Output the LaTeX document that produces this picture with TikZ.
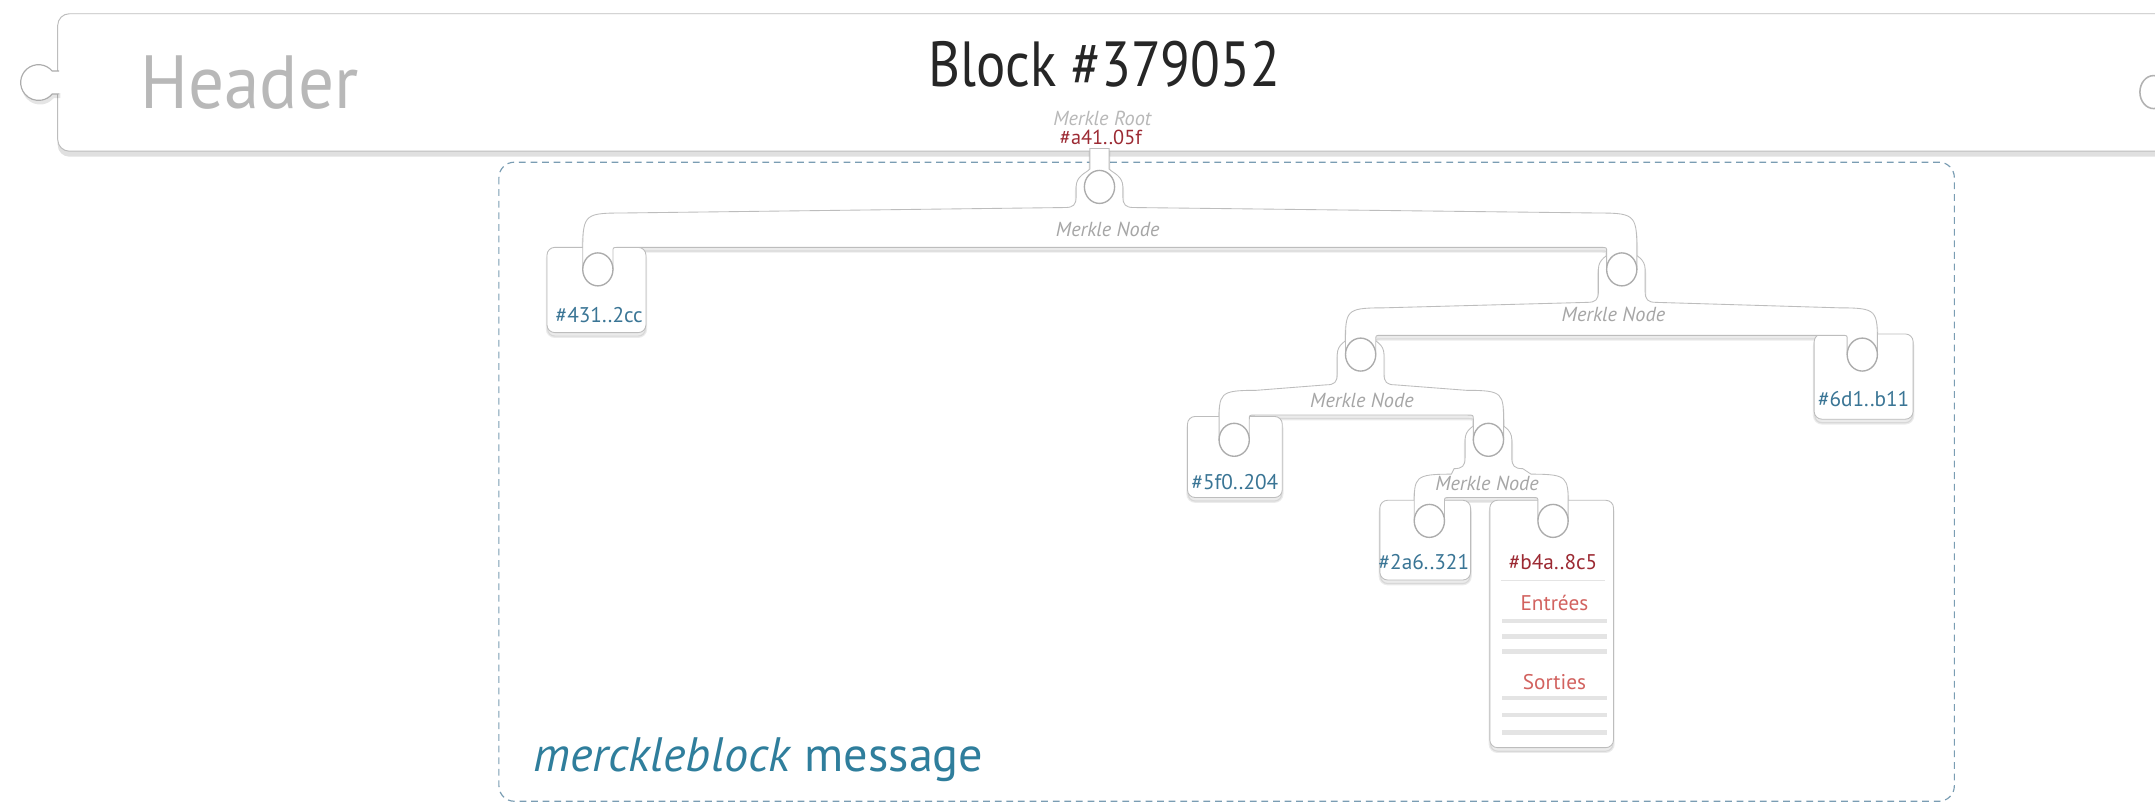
\documentclass[tikz,border=0pt]{standalone}
\usepackage{fontspec}
\setmainfont{PT Sans}
\usetikzlibrary{shadows}
\definecolor{hashblue}{HTML}{3A7595}
\definecolor{msgblue}{HTML}{2F7E9C}
\definecolor{darkred}{HTML}{9C2A33}
\definecolor{lightred}{HTML}{D2625F}
\definecolor{mgray}{HTML}{A6A6A6}
\definecolor{hgray}{HTML}{B8B8B8}
\definecolor{edgec}{HTML}{BDBDBD}
\definecolor{dashc}{HTML}{7A9DB3}
\definecolor{rowgray}{HTML}{E4E4E4}
% #1 style, #2 px, #3 necktop, #4 py (ring), #5 xl, #6 xr, #7 yt, #8 yb, #9 cy
\newcommand\hanger[9]{%
\path[#1]
 ({#2-7},#3) -- ({#2-7},{#4-13})
 .. controls ({#2-10},{#4-10}) and ({#2-17},{#4-8}) .. ({#2-17},#4)
 -- ({#2-17},{#7-8})
 .. controls ({#2-17},{#7-2}) and ({#2-19},#7) .. ({#2-25},#7)
 -- ({#5+16},{#7+4})
 .. controls ({#5-11},{#7+4}) and ({#5-11},{#7+6}) .. ({#5-11},{#8+6})
 -- ({#5-11},#9) -- ({#5+11},#9)
 -- ({#5+11},{#8+3}) .. controls ({#5+11},#8) .. ({#5+15},#8)
 -- ({#6-15},#8) .. controls ({#6-11},#8) .. ({#6-11},{#8+3})
 -- ({#6-11},#9) -- ({#6+11},#9)
 -- ({#6+11},{#8+6})
 .. controls ({#6+11},{#7+6}) and ({#6+11},{#7+4}) .. ({#6-16},{#7+4})
 -- ({#2+25},#7)
 .. controls ({#2+19},#7) and ({#2+17},{#7-2}) .. ({#2+17},{#7-8})
 -- ({#2+17},#4)
 .. controls ({#2+17},{#4-8}) and ({#2+10},{#4-10}) .. ({#2+7},{#4-13})
 -- ({#2+7},#3) -- cycle;}
\begin{document}
\begin{tikzpicture}[x=0.05cm,y=-0.05cm,
  shadowpass/.style={fill=black, draw=black, opacity=0.08, line width=2.5pt, shift={(0,3)}},
  hang/.style={fill=white, draw=edgec, line width=0.9pt},
  leafbox/.style={fill=white, draw=edgec, line width=0.9pt, rounded corners=8pt},
  ring/.style={fill=white, draw=gray!65, line width=1.4pt},
  mnode/.style={font=\itshape\fontsize{21}{22}\selectfont, text=mgray, inner sep=0pt},
  hashtxt/.style={font=\fontsize{22}{23}\selectfont, text=hashblue, inner sep=0pt},
  redtxt/.style={font=\fontsize{22}{23}\selectfont, text=darkred, inner sep=0pt},
  ltred/.style={font=\fontsize{22}{23}\selectfont, text=lightred, inner sep=0pt},
  row/.style={draw=rowgray, line width=4.5pt},
]
\clip (0,0) rectangle (1568,589);
\fill[white] (0,0) rectangle (1568,589);

% ---------- header bar ----------
\path[fill=black, opacity=0.12, rounded corners=12pt, shift={(0,4)}] (42,10) rectangle (1650,110);
\path[fill=white, draw=edgec, line width=1pt, rounded corners=12pt] (42,10) rectangle (1650,110);
\path[fill=black, opacity=0.10, shift={(1,3)}] (43,51.7) -- (38,51.7) arc[start angle=-40, end angle=-320, radius=13] -- (43,68.3) -- cycle;
\path[fill=white, draw=gray!65, line width=1.2pt] (43,51.7) -- (38,51.7) arc[start angle=-40, end angle=-320, radius=13] -- (43,68.3);
\fill[white] (40,52.4) rectangle (45,67.6);
\draw[gray!60, line width=1.6pt] (1567,67) ellipse[x radius=10, y radius=12];

\node[font=\fontsize{78}{80}\selectfont, text=hgray, anchor=base west, inner sep=0pt, xscale=0.945] (hdr) at (102,78.6) {Header};
\node[font=\fontsize{66}{68}\selectfont, text=black!85, anchor=base, inner sep=0pt, xscale=0.86] (blk) at (803.5,63) {Block \#379052};
\node[mnode, text=hgray] (mroot) at (802,86) {Merkle Root};
\node[redtxt, font=\fontsize{21}{22}\selectfont] (roothash) at (801,100) {\#a41..05f};

% ---------- dashed frame ----------
\draw[dashc, line width=1.2pt, dash pattern=on 7pt off 5pt, rounded corners=16pt] (363,118) rectangle (1422,583);

% ---------- shadows ----------
\path[shadowpass, rounded corners=8pt] (398,180) rectangle (470,242);
\path[shadowpass, rounded corners=8pt] (1320,243) rectangle (1392,305);
\path[shadowpass, rounded corners=8pt] (864,303) rectangle (933,362);
\path[shadowpass, rounded corners=8pt] (1004,364) rectangle (1070,422);
\path[shadowpass, rounded corners=8pt] (1084,364) rectangle (1174,544);
\hanger{shadowpass}{1083}{306}{320}{1040}{1130}{341}{362}{379}
\hanger{shadowpass}{990}{244}{258}{898}{1083}{280}{302}{320}
\hanger{shadowpass}{1180}{182}{196}{990}{1355}{220}{244}{258}
\hanger{shadowpass}{800}{108}{136}{435}{1180}{151}{180}{196}

% ---------- leaf boxes ----------
\path[leafbox] (398,180) rectangle (470,242);
\path[leafbox] (1320,243) rectangle (1392,305);
\path[leafbox] (864,303) rectangle (933,362);
\path[leafbox] (1004,364) rectangle (1070,422);
\path[leafbox] (1084,364) rectangle (1174,544);

% ---------- hangers ----------
\hanger{hang}{1083}{306}{320}{1040}{1130}{341}{362}{379}
\hanger{hang}{990}{244}{258}{898}{1083}{280}{302}{320}
\hanger{hang}{1180}{182}{196}{990}{1355}{220}{244}{258}
\hanger{hang}{800}{108}{136}{435}{1180}{151}{180}{196}

% ---------- rings ----------
\foreach \cx/\cy in {800/136, 435/196, 1180/196, 990/258, 1355/258, 898/320, 1083/320, 1040/379, 1130/379}
  \draw[ring] (\cx,\cy) ellipse[x radius=11, y radius=12];

% ---------- labels ----------
\node[mnode] (mn1) at (806,167) {Merkle Node};
\node[mnode] (mn2) at (1174,229) {Merkle Node};
\node[mnode] (mn3) at (991,291) {Merkle Node};
\node[mnode] (mn4) at (1082,352) {Merkle Node};

\node[hashtxt] (h431) at (436,229) {\#431..2cc};
\node[hashtxt] (h6d1) at (1356,290) {\#6d1..b11};
\node[hashtxt] (h5f0) at (898.5,350.5) {\#5f0..204};
\node[hashtxt] (h2a6) at (1036,409) {\#2a6..321};
\node[redtxt] (hb4a) at (1130,409) {\#b4a..8c5};

\draw[rowgray, line width=0.8pt] (1092,422) -- (1168,422);
\node[ltred] (entrees) at (1131,439) {Entrées};
\draw[row] (1093,452) -- (1169,452);
\draw[row] (1093,463) -- (1169,463);
\draw[row] (1093,474) -- (1169,474);
\node[ltred] (sorties) at (1131,496) {Sorties};
\draw[row] (1093,508) -- (1169,508);
\draw[row] (1093,520) -- (1169,520);
\draw[row] (1093,533) -- (1169,533);

\node[font=\fontsize{50}{52}\selectfont, text=msgblue, anchor=west, inner sep=0pt] (msg) at (388,553) {\textit{merckleblock} message};
\end{tikzpicture}
\end{document}
